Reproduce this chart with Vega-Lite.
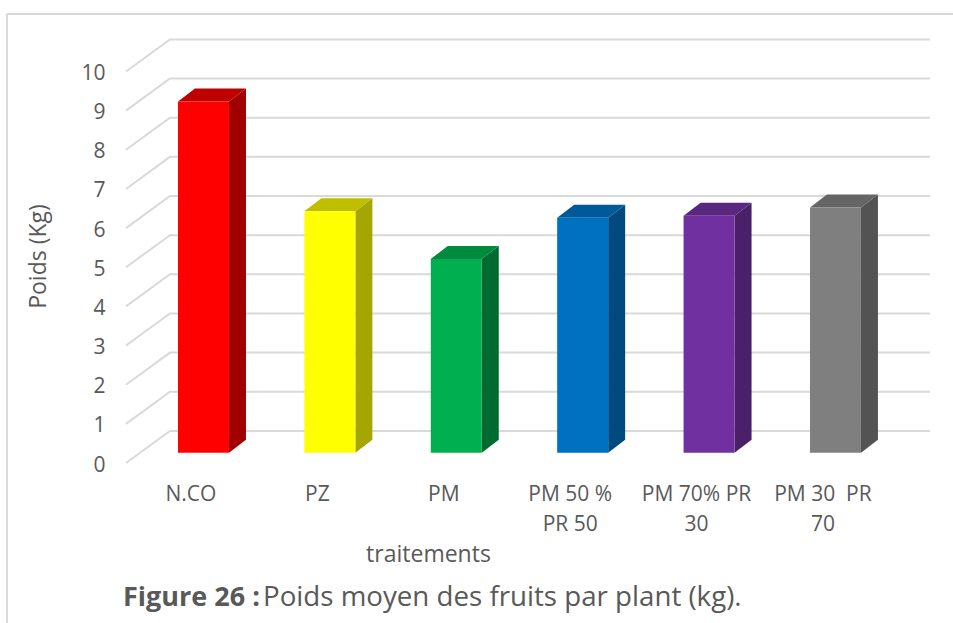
{
"$schema":"https://vega.github.io/schema/vega-lite/v6.json",
"width":804,"height":424,
"autosize":"none",
"padding":{"left":126,"top":39,"right":23,"bottom":160},
"background":"white",
"config":{"view":{"stroke":null},"font":"Open Sans"},
"datasets":{
"bars":[
{"i":0,"traitement":"N.CO","poids":8.97},
{"i":1,"traitement":"PZ","poids":6.17},
{"i":2,"traitement":"PM","poids":4.95},
{"i":3,"traitement":"PM 50 % PR 50","poids":6.0},
{"i":4,"traitement":"PM 70% PR 30","poids":6.05},
{"i":5,"traitement":"PM 30 PR 70","poids":6.26}
],
"ticks":[{"v":0},{"v":1},{"v":2},{"v":3},{"v":4},{"v":5},{"v":6},{"v":7},{"v":8},{"v":9},{"v":10}],
"one":[{"note":"annotation"}]
},
"layer":[
{"data":{"name":"ticks"},
"transform":[{"calculate":"[0,1,2]","as":"t"},{"flatten":["t"]},
{"calculate":"[-0.613,-0.265,5.748][datum.t]","as":"gx"},
{"calculate":"datum.v+[0,0.82,0.82][datum.t]","as":"gy"}],
"mark":{"type":"line","color":"#d9d9d9","strokeWidth":2,"clip":false},
"encoding":{
"x":{"field":"gx","type":"quantitative","scale":{"domain":[-0.613,5.748],"nice":false,"zero":false},
"axis":{"title":"traitements","titleFontSize":23,"titleFontWeight":"normal","titleColor":"#595959","titleX":302,"titleY":91,"titleBaseline":"middle","titleAlign":"center","titleAnchor":null,
"values":[0,1,2,3,4,5],"grid":false,"domain":false,"ticks":false,"labelOffset":-13,"labelPadding":20,"labelFontSize":21,"labelColor":"#595959","labelLineHeight":30,"labelBaseline":"top","labelFlush":false,"labelOverlap":false,
"labelExpr":"[['N.CO'],['PZ'],['PM'],['PM 50 %','PR 50'],['PM 70% PR','30'],['PM 30\u00a0 PR','70']][datum.value]"}},
"y":{"field":"gy","type":"quantitative","scale":{"domain":[0,10.83],"nice":false,"zero":false},
"axis":{"title":"Poids (Kg)","titleFontSize":23,"titleFontWeight":"normal","titleColor":"#595959","titleX":-88,"titleY":217,"titleAlign":"center","titleBaseline":"middle","titleAnchor":null,
"values":[0,1,2,3,4,5,6,7,8,9,10],"grid":false,"domain":false,"ticks":false,"labelPadding":21,"labelOffset":2,"labelFontSize":21,"labelColor":"#595959","labelFlush":false,"labelOverlap":false}},
"detail":{"field":"v"}}},
{"data":{"name":"bars"},
"transform":[{"calculate":"[0,1]","as":"t"},{"flatten":["t"]},
{"calculate":"datum.i+0.2017+datum.t*0.1345","as":"sx"},
{"calculate":"datum.poids+0.263+datum.t*0.332","as":"sy"},
{"calculate":"0.263+datum.t*0.332","as":"sy2"}],
"mark":{"type":"area","orient":"vertical"},
"encoding":{
"x":{"field":"sx","type":"quantitative"},
"y":{"field":"sy","type":"quantitative","stack":null},
"y2":{"field":"sy2"},
"detail":{"field":"i"},
"color":{"field":"i","type":"nominal","legend":null,"scale":{"domain":[0,1,2,3,4,5],"range":["#a00000","#a6a600","#006b30","#004a80","#4a2069","#535353"]}}}},
{"data":{"name":"bars"},
"transform":[{"calculate":"[0,1]","as":"t"},{"flatten":["t"]},
{"calculate":"datum.i-0.2017+datum.t*0.1345","as":"tx"},
{"calculate":"datum.i+0.2017+datum.t*0.1345","as":"tx2"},
{"calculate":"datum.poids+0.263+datum.t*0.332","as":"ty"}],
"mark":{"type":"area","orient":"horizontal"},
"encoding":{
"x":{"field":"tx","type":"quantitative","stack":null},
"x2":{"field":"tx2"},
"y":{"field":"ty","type":"quantitative"},
"detail":{"field":"i"},
"color":{"field":"i","type":"nominal","legend":null,"scale":{"domain":[0,1,2,3,4,5],"range":["#c00000","#bfbf00","#008a3e","#005a9a","#592680","#656565"]}}}},
{"data":{"name":"bars"},
"transform":[{"calculate":"datum.i-0.2017","as":"fx"},{"calculate":"datum.i+0.2017","as":"fx2"},
{"calculate":"datum.poids+0.263","as":"fy"},{"calculate":"0.263","as":"fy2"}],
"mark":{"type":"rect"},
"encoding":{
"x":{"field":"fx","type":"quantitative"},
"x2":{"field":"fx2"},
"y":{"field":"fy","type":"quantitative"},
"y2":{"field":"fy2"},
"color":{"field":"i","type":"nominal","legend":null,"scale":{"domain":[0,1,2,3,4,5],"range":["#ff0000","#ffff00","#00b050","#0070c0","#7030a0","#7f7f7f"]}}}},
{"data":{"name":"one"},"mark":{"type":"rule","color":"#d9d9d9","strokeWidth":2},
"encoding":{"x":{"datum":-1.555,"type":"quantitative"},"y":{"datum":11.47,"type":"quantitative"},"y2":{"datum":-4.09}}},
{"data":{"name":"one"},"mark":{"type":"rule","color":"#d9d9d9","strokeWidth":2},
"encoding":{"x":{"datum":-1.555,"type":"quantitative"},"x2":{"datum":5.93},"y":{"datum":11.47,"type":"quantitative"}}},
{"data":{"name":"one"},"mark":{"type":"text","align":"left","baseline":"middle","fontSize":27,"fontWeight":"bold","color":"#595959"},
"encoding":{"x":{"datum":-0.637,"type":"quantitative"},"y":{"datum":-3.46,"type":"quantitative"},"text":{"value":"Figure 26 :"}}},
{"data":{"name":"one"},"mark":{"type":"text","align":"left","baseline":"middle","fontSize":27.7,"color":"#595959"},
"encoding":{"x":{"datum":0.471,"type":"quantitative"},"y":{"datum":-3.46,"type":"quantitative"},"text":{"value":"Poids moyen des fruits par plant (kg)."}}}
],
"resolve":{"scale":{"color":"independent"}}
}
